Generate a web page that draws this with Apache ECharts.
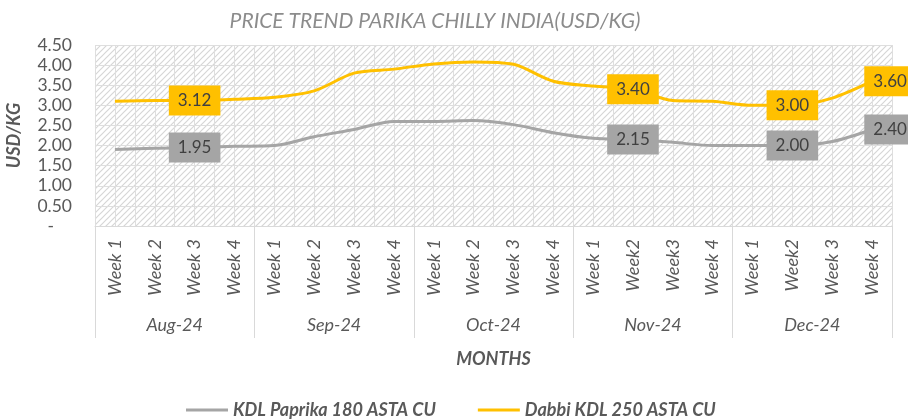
<!DOCTYPE html>
<html>
<head>
<meta charset="utf-8">
<script src="https://cdn.jsdelivr.net/npm/echarts@6/dist/echarts.min.js"></script>
<style>
  html, body { margin: 0; padding: 0; background: #fff; }
  #chart { width: 908px; height: 419px; }
</style>
</head>
<body>
<div id="chart"></div>
<script>
// data
let months = ["Aug-24", "Sep-24", "Oct-24", "Nov-24", "Dec-24"];
let weeks = [
  "Week 1", "Week 2", "Week 3", "Week 4",
  "Week 1", "Week 2", "Week 3", "Week 4",
  "Week 1", "Week 2", "Week 3", "Week 4",
  "Week 1", "Week2", "Week3", "Week 4",
  "Week 1", "Week2", "Week 3", "Week 4",
];
let kdlPaprika = [1.9, 1.93, 1.95, 1.98, 2.0, 2.22, 2.4, 2.6, 2.6, 2.62, 2.52, 2.32, 2.18, 2.15, 2.08, 2.0, 2.0, 2.0, 2.1, 2.4];
let dabbiKdl = [3.1, 3.12, 3.12, 3.15, 3.2, 3.36, 3.8, 3.9, 4.03, 4.08, 4.02, 3.6, 3.48, 3.4, 3.12, 3.1, 3.0, 3.0, 3.18, 3.6];
let labelled = [2, 13, 17, 19]; // points that carry a data label

const FONT = "Lato, 'Liberation Sans', sans-serif";
const GRAY = "#a5a5a5";
const GOLD = "#ffc000";

// hatch fill like the excel plot area
let hatch = document.createElement("canvas");
hatch.width = 6;
hatch.height = 6;
let ctx = hatch.getContext("2d");
ctx.fillStyle = "#fff";
ctx.fillRect(0, 0, 6, 6);
ctx.strokeStyle = "#d6d6d6";
ctx.lineWidth = 1.2;
ctx.beginPath();
ctx.moveTo(-1, 7); ctx.lineTo(7, -1);
ctx.moveTo(-1, 1); ctx.lineTo(1, -1);
ctx.moveTo(5, 7); ctx.lineTo(7, 5);
ctx.stroke();

function withLabels(values, color) {
  return values.map((v, i) => {
    if (!labelled.includes(i)) return v;
    return {
      value: v,
      label: {
        show: true,
        position: "inside",
        offset: i === values.length - 1 ? [18, 0] : [0, 0],
        backgroundColor: color,
        color: "#404040",
        fontFamily: FONT,
        fontSize: 17,
        padding: [7, 9, 6, 9],
        formatter: (p) => p.value.toFixed(2),
      },
    };
  });
}

const chart = echarts.init(document.getElementById("chart"), null, { renderer: "canvas" });

let option = {
  animation: false,
  title: {
    text: "PRICE TREND PARIKA CHILLY INDIA(USD/KG)",
    left: 430,
    textAlign: "center",
    top: 6,
    textStyle: { fontFamily: FONT, fontSize: 21, fontStyle: "italic", fontWeight: "normal", color: "#8c8c8c" },
  },
  grid: { left: 95, right: 16, top: 45, bottom: 193, outerBoundsMode: "none" },
  graphic: [
    { type: "rect", left: 95, top: 45, z: -10, shape: { width: 797, height: 181 }, style: { fill: { image: hatch, repeat: "repeat" } } },
  ],
  legend: {
    bottom: -5,
    left: 181,
    icon: "rect",
    itemWidth: 42,
    itemHeight: 3,
    itemGap: 42,
    textStyle: { fontFamily: FONT, fontSize: 18, fontStyle: "italic", fontWeight: "bold", color: "#595959" },
    data: ["KDL Paprika 180 ASTA CU", "Dabbi KDL 250 ASTA CU"],
  },
  xAxis: [
    {
      type: "category",
      data: weeks,
      position: "bottom",
      axisLine: { lineStyle: { color: "#d9d9d9" } },
      axisTick: { show: false },
      axisLabel: { interval: 0, rotate: 90, margin: 13, fontFamily: FONT, fontSize: 18, fontStyle: "italic", color: "#595959" },
    },
    {
      type: "category",
      data: months,
      position: "bottom",
      axisLine: { show: false },
      axisTick: { show: true, interval: 0, length: 112, lineStyle: { color: "#d9d9d9" } },
      axisLabel: { interval: 0, margin: 90, fontFamily: FONT, fontSize: 18, fontStyle: "italic", color: "#595959" },
      name: "MONTHS",
      nameLocation: "middle",
      nameGap: 124,
      nameTextStyle: { fontFamily: FONT, fontSize: 18, fontStyle: "italic", fontWeight: "bold", color: "#595959" },
    },
    {
      // half-week vertical grid of the plot area
      type: "category",
      data: Array.from({ length: weeks.length * 2 }, (_, i) => i),
      position: "top",
      axisLine: { show: false },
      axisTick: { show: false },
      axisLabel: { show: false },
      splitLine: { show: true, interval: 0, lineStyle: { color: "#dedede" } },
    },
  ],
  yAxis: {
    type: "value",
    min: 0,
    max: 4.5,
    interval: 0.5,
    axisLine: { show: false },
    axisTick: { show: false },
    splitLine: { lineStyle: { color: "#dedede" } },
    axisLabel: {
      margin: 23,
      fontFamily: FONT,
      fontSize: 17.5,
      color: "#595959",
      formatter: (v) => (v === 0 ? "-    " : v.toFixed(2)),
    },
    name: "USD/KG",
    nameLocation: "middle",
    nameGap: 72,
    nameTextStyle: { fontFamily: FONT, fontSize: 18, fontStyle: "italic", fontWeight: "bold", color: "#595959" },
  },
  series: [
    {
      name: "KDL Paprika 180 ASTA CU",
      type: "line",
      xAxisIndex: 0,
      smooth: 0.3,
      symbol: "circle",
      symbolSize: 0.1,
      showSymbol: true,
      color: GRAY,
      lineStyle: { width: 3, color: GRAY },
      data: withLabels(kdlPaprika, GRAY),
    },
    {
      name: "Dabbi KDL 250 ASTA CU",
      type: "line",
      xAxisIndex: 0,
      smooth: 0.3,
      symbol: "circle",
      symbolSize: 0.1,
      showSymbol: true,
      color: GOLD,
      lineStyle: { width: 3, color: GOLD },
      data: withLabels(dabbiKdl, GOLD),
    },
  ],
};

option && chart.setOption(option);
</script>
</body>
</html>
